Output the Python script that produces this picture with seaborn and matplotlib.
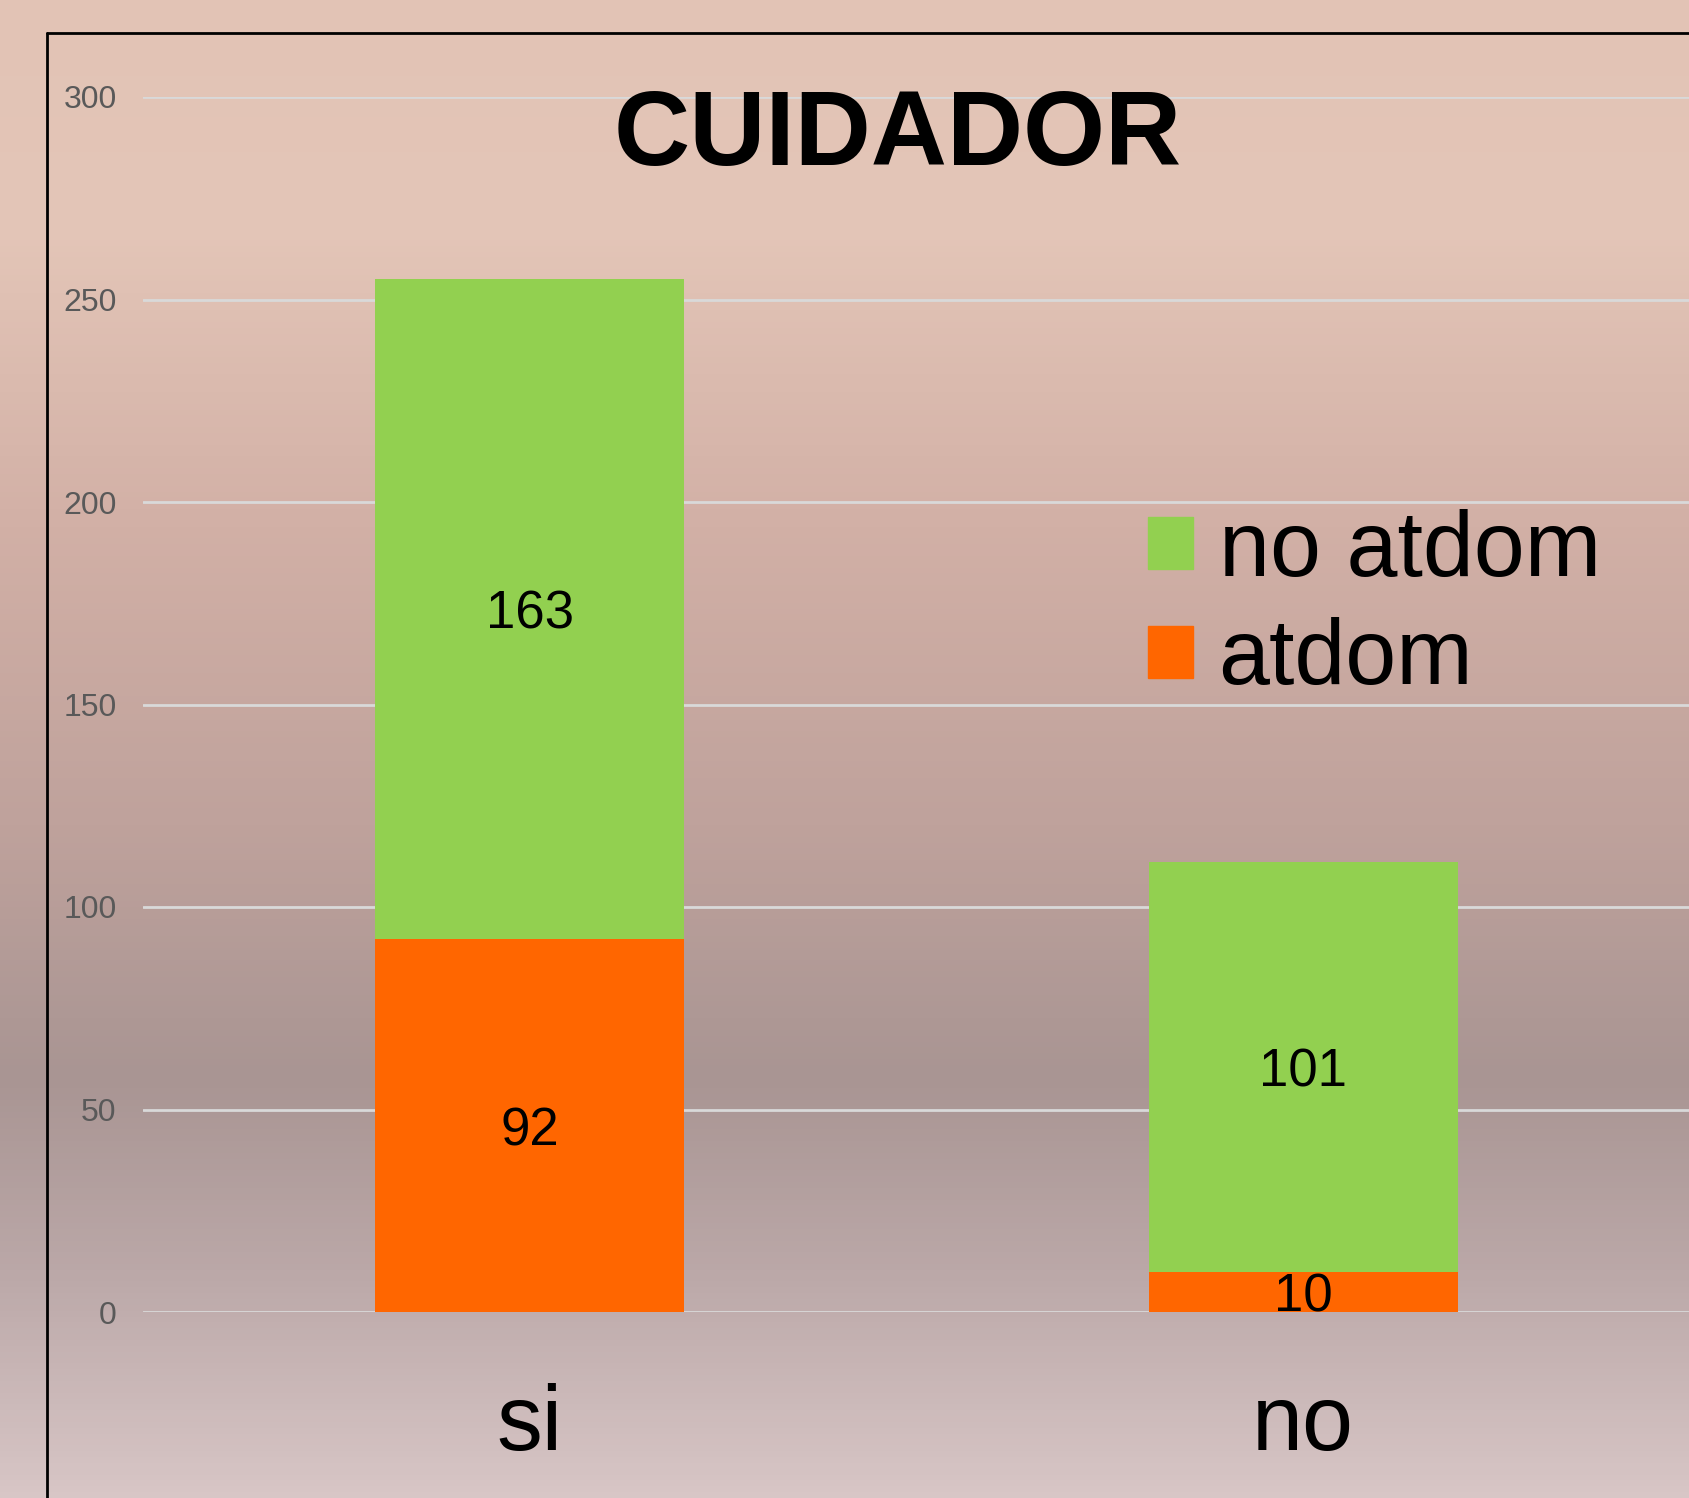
import numpy as np
import pandas as pd
import matplotlib
matplotlib.use("Agg")
import matplotlib.pyplot as plt
from matplotlib.colors import LinearSegmentedColormap
from matplotlib.patches import Patch
import seaborn as sns

# ---- data ----
categories = ["si", "no"]
atdom = [92, 10]
no_atdom = [163, 101]
y_ticks = [0, 50, 100, 150, 200, 250, 300]

green = "#92D050"
orange = "#FF6600"

df = pd.DataFrame({"cuidador": categories, "atdom": atdom, "no_atdom": no_atdom})
df["total"] = df["atdom"] + df["no_atdom"]

sns.set_style("white")
plt.rcParams["font.family"] = ["Liberation Sans", "DejaVu Sans"]

fig = plt.figure(figsize=(16.9, 14.98), dpi=100)

# blurred-photo look: soft vertical colour wash behind everything
bg = fig.add_axes([0, 0, 1, 1], zorder=-10)
wash = LinearSegmentedColormap.from_list(
    "wash",
    [(0.0, "#e2c3b5"), (0.15, "#e4c6b8"), (0.35, "#d2b0a6"),
     (0.55, "#bfa29c"), (0.72, "#a99593"), (0.85, "#bba8a8"), (1.0, "#d8c6c6")],
)
bg.imshow(np.linspace(0, 1, 256).reshape(-1, 1), aspect="auto", cmap=wash,
          extent=[0, 1, 0, 1])
bg.axis("off")

# black frame, top and left edges (rest is cropped off)
fig.add_artist(plt.Line2D([47 / 1690, 47 / 1690], [0, 1 - 33 / 1498],
                          color="black", lw=2))
fig.add_artist(plt.Line2D([47 / 1690, 1], [1 - 33 / 1498, 1 - 33 / 1498],
                          color="black", lw=2))

ax = fig.add_axes([143 / 1690, 186 / 1498, (1690 - 143) / 1690, (1312 - 97) / 1498])
ax.patch.set_alpha(0)

sns.barplot(data=df, x="cuidador", y="total", color=green, width=0.4,
            saturation=1, linewidth=0, edgecolor="none", ax=ax, zorder=3)
sns.barplot(data=df, x="cuidador", y="atdom", color=orange, width=0.4,
            saturation=1, linewidth=0, edgecolor="none", ax=ax, zorder=4)

# segment labels
for i in range(len(categories)):
    ax.text(i, atdom[i] / 2, str(atdom[i]), ha="center", va="center_baseline",
            fontsize=38, color="black", zorder=5)
    ax.text(i, atdom[i] + no_atdom[i] / 2, str(no_atdom[i]), ha="center",
            va="center_baseline", fontsize=38, color="black", zorder=5)

ax.set_xlim(-0.5, 1.5)
ax.set_ylim(0, 300)
ax.set_yticks(y_ticks)
ax.yaxis.grid(True, color="#d9d9d9", lw=2, zorder=0)
ax.set_axisbelow(True)
for s in ax.spines.values():
    s.set_visible(False)
ax.tick_params(axis="y", length=0, pad=19, labelsize=23, labelcolor="#595959")
ax.tick_params(axis="x", length=0, pad=51, labelsize=66, labelcolor="black")
ax.set_xlabel("")
ax.set_ylabel("")

fig.text(898 / 1690, 1 - 138 / 1498, "CUIDADOR", ha="center", va="center",
         fontsize=76, fontweight="bold", color="black")

handles = [Patch(color=green, label="no atdom"), Patch(color=orange, label="atdom")]
fig.legend(handles=handles, loc="center left",
           bbox_to_anchor=(1148 / 1690, 1 - 606 / 1498), frameon=False,
           fontsize=66, labelcolor="black", handlelength=0.49, handleheight=0.49,
           handletextpad=0.28, labelspacing=0.25, borderpad=0, borderaxespad=0)

plt.savefig("out.png", dpi=100)
